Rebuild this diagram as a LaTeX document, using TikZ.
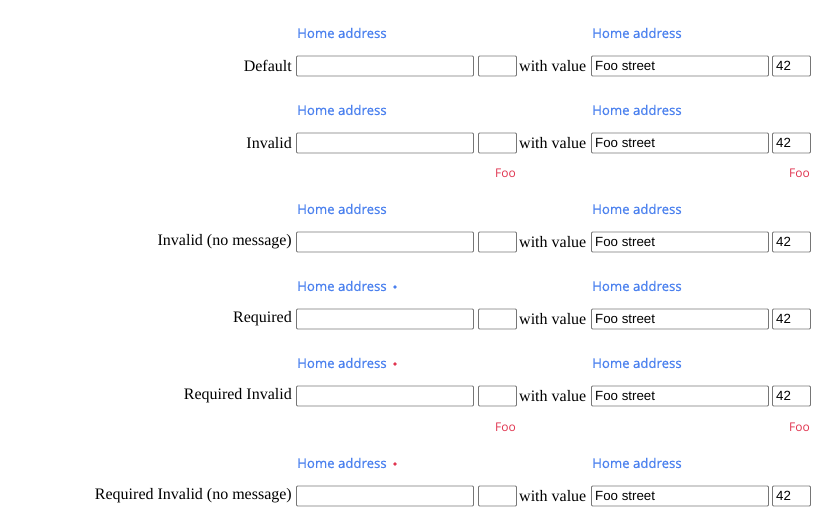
\documentclass[tikz,border=0pt]{standalone}
\usepackage{fontspec}
\setmainfont{Liberation Serif}
\newfontfamily\labelfont[FakeBold=0.7]{Open Sans}
\newfontfamily\errfont{Open Sans}
\newfontfamily\inputfont{Liberation Sans}
\definecolor{labelblue}{HTML}{4A80EE}
\definecolor{errred}{HTML}{E0344F}
\definecolor{boxgray}{HTML}{767676}
\begin{document}
\begin{tikzpicture}[x=1pt, y=-1pt,
  rowlabel/.style={anchor=east, inner sep=0pt, font=\fontsize{16}{18}\selectfont},
  fieldlabel/.style={anchor=west, inner sep=0pt, text=labelblue, font=\labelfont\fontsize{13.2}{15}\selectfont},
  field/.style={draw=boxgray, line width=0.9pt, rounded corners=1pt, minimum height=20pt, inner sep=0pt, anchor=west},
  wide/.style={field, minimum width=177pt},
  narrow/.style={field, minimum width=38pt},
  val/.style={anchor=west, inner sep=0pt, font=\inputfont\fontsize{13.3}{15}\selectfont},
  with/.style={anchor=west, inner sep=0pt, font=\fontsize{16}{18}\selectfont},
  errmsg/.style={anchor=east, inner sep=0pt, text=errred, font=\errfont\fontsize{12}{14}\selectfont},
  reqdot/.style={circle, fill=#1, inner sep=0pt, minimum size=3.6pt}]

  \useasboundingbox (0,0) rectangle (820,527);

  % Default
  \node [fieldlabel] (la1) at (297, 33) {Home address};
  \node [fieldlabel] (lb1) at (592, 33) {Home address};
  \node [rowlabel] (r1) at (292, 66) {Default};
  \node [wide] (fa1) at (296, 66) {};
  \node [narrow] (fb1) at (478, 66) {};
  \node [with] (w1) at (519, 66) {with value};
  \node [wide] (fc1) at (591, 66) {};
  \node [val] (vc1) at ([xshift=4pt]fc1.west) {Foo street};
  \node [narrow] (fd1) at (772, 66) {};
  \node [val] (vd1) at ([xshift=4pt]fd1.west) {42};

  % Invalid
  \node [fieldlabel] (la2) at (297, 110) {Home address};
  \node [fieldlabel] (lb2) at (592, 110) {Home address};
  \node [rowlabel] (r2) at (292, 143) {Invalid};
  \node [wide] (fa2) at (296, 143) {};
  \node [narrow] (fb2) at (478, 143) {};
  \node [with] (w2) at (519, 143) {with value};
  \node [wide] (fc2) at (591, 143) {};
  \node [val] (vc2) at ([xshift=4pt]fc2.west) {Foo street};
  \node [narrow] (fd2) at (772, 143) {};
  \node [val] (vd2) at ([xshift=4pt]fd2.west) {42};
  \node [errmsg] (ea2) at (516, 173) {Foo};
  \node [errmsg] (eb2) at (810, 173) {Foo};

  % Invalid (no message)
  \node [fieldlabel] (la3) at (297, 209) {Home address};
  \node [fieldlabel] (lb3) at (592, 209) {Home address};
  \node [rowlabel] (r3) at (292, 242) {Invalid (no message)};
  \node [wide] (fa3) at (296, 242) {};
  \node [narrow] (fb3) at (478, 242) {};
  \node [with] (w3) at (519, 242) {with value};
  \node [wide] (fc3) at (591, 242) {};
  \node [val] (vc3) at ([xshift=4pt]fc3.west) {Foo street};
  \node [narrow] (fd3) at (772, 242) {};
  \node [val] (vd3) at ([xshift=4pt]fd3.west) {42};

  % Required
  \node [fieldlabel] (la4) at (297, 286) {Home address};
  \node [reqdot=labelblue] (d4) at (395, 287) {};
  \node [fieldlabel] (lb4) at (592, 286) {Home address};
  \node [rowlabel] (r4) at (292, 319) {Required};
  \node [wide] (fa4) at (296, 319) {};
  \node [narrow] (fb4) at (478, 319) {};
  \node [with] (w4) at (519, 319) {with value};
  \node [wide] (fc4) at (591, 319) {};
  \node [val] (vc4) at ([xshift=4pt]fc4.west) {Foo street};
  \node [narrow] (fd4) at (772, 319) {};
  \node [val] (vd4) at ([xshift=4pt]fd4.west) {42};

  % Required Invalid
  \node [fieldlabel] (la5) at (297, 363) {Home address};
  \node [reqdot=errred] (d5) at (395, 364) {};
  \node [fieldlabel] (lb5) at (592, 363) {Home address};
  \node [rowlabel] (r5) at (292, 396) {Required Invalid};
  \node [wide] (fa5) at (296, 396) {};
  \node [narrow] (fb5) at (478, 396) {};
  \node [with] (w5) at (519, 396) {with value};
  \node [wide] (fc5) at (591, 396) {};
  \node [val] (vc5) at ([xshift=4pt]fc5.west) {Foo street};
  \node [narrow] (fd5) at (772, 396) {};
  \node [val] (vd5) at ([xshift=4pt]fd5.west) {42};
  \node [errmsg] (ea5) at (516, 427) {Foo};
  \node [errmsg] (eb5) at (810, 427) {Foo};

  % Required Invalid (no message)
  \node [fieldlabel] (la6) at (297, 463) {Home address};
  \node [reqdot=errred] (d6) at (395, 464) {};
  \node [fieldlabel] (lb6) at (592, 463) {Home address};
  \node [rowlabel] (r6) at (292, 496) {Required Invalid (no message)};
  \node [wide] (fa6) at (296, 496) {};
  \node [narrow] (fb6) at (478, 496) {};
  \node [with] (w6) at (519, 496) {with value};
  \node [wide] (fc6) at (591, 496) {};
  \node [val] (vc6) at ([xshift=4pt]fc6.west) {Foo street};
  \node [narrow] (fd6) at (772, 496) {};
  \node [val] (vd6) at ([xshift=4pt]fd6.west) {42};
\end{tikzpicture}
\end{document}
